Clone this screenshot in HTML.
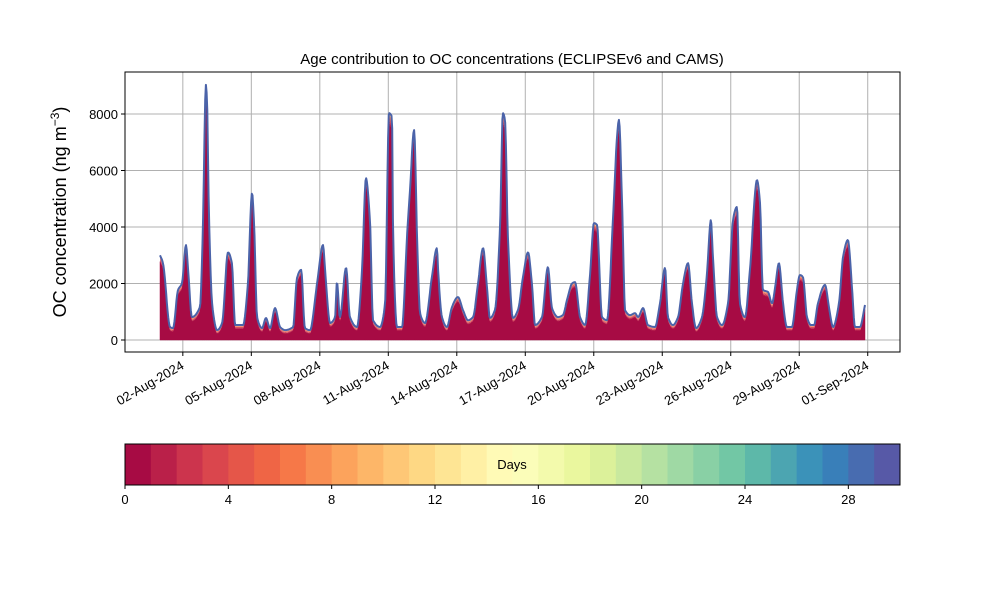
<!DOCTYPE html>
<html><head><meta charset="utf-8"><style>
body{margin:0;background:#fff;}
svg{display:block;font-family:"Liberation Sans","DejaVu Sans",sans-serif;}
</style></head><body>
<svg id="chart" width="1000" height="600" viewBox="0 0 1000 600">
<text x="512" y="64" text-anchor="middle" font-size="15">Age contribution to OC concentrations (ECLIPSEv6 and CAMS)</text>
<g id="grid"></g>
<g id="areas"></g>
<rect x="125" y="72" width="775" height="280" fill="none" stroke="#000" stroke-width="1"/>
<g id="yticks"></g>
<g id="xticks"></g>
<text transform="translate(66,212) rotate(-90)" text-anchor="middle" font-size="18">OC concentration (ng m<tspan font-size="12" dy="-7">−3</tspan><tspan dy="7">)</tspan></text>
<g id="cbar"></g>
</svg>
<script>
const days=[0,0.13,0.44,0.57,0.79,0.96,1.14,1.23,1.40,1.75,1.88,2.01,2.06,2.15,2.28,2.50,2.72,2.98,3.15,3.29,3.64,3.85,4.03,4.12,4.25,4.47,4.64,4.82,5.04,5.26,5.48,5.83,6.00,6.18,6.35,6.57,6.88,7.14,7.23,7.45,7.67,7.75,7.88,8.15,8.32,8.63,8.85,9.02,9.20,9.33,9.64,9.86,10.03,10.16,10.21,10.38,10.60,10.82,10.95,11.13,11.26,11.39,11.61,11.91,12.13,12.18,12.35,12.57,12.79,13.05,13.27,13.49,13.71,13.93,14.15,14.32,14.45,14.67,14.89,15.02,15.11,15.24,15.46,15.68,15.90,16.12,16.29,16.43,16.73,16.99,17.17,17.43,17.65,17.83,18.05,18.18,18.40,18.62,18.83,19.01,19.14,19.36,19.58,19.84,20.02,20.10,20.24,20.37,20.59,20.81,20.94,21.16,21.37,21.68,21.90,22.12,22.25,22.47,22.69,22.91,23.13,23.30,23.48,23.74,23.96,24.13,24.22,24.40,24.62,24.88,25.10,25.27,25.40,25.62,25.84,26.15,26.28,26.41,26.63,26.81,26.94,27.11,27.29,27.46,27.68,27.90,28.03,28.16,28.34,28.51,28.65,28.82,29.13,29.30,29.48,29.74,29.92,30.13,30.31,30.44,30.66,30.88];
const totals=[3000,2720,460,420,1770,2000,3360,2480,810,1170,4000,9030,8390,4250,1300,350,600,3100,2720,530,530,2000,5200,4140,810,420,780,420,1130,460,350,460,2190,2480,420,350,2000,3360,2480,600,810,2050,810,2550,810,460,2480,5730,4140,700,460,1300,8030,7900,3650,460,460,3650,5300,7430,3650,950,600,2230,3250,2480,810,460,1170,1520,1060,700,810,2000,3250,1880,780,1060,3900,8030,7790,3650,780,1060,2230,3100,2000,530,810,2580,1130,810,880,1420,2000,2050,810,530,2230,4140,4070,810,700,4250,7190,7790,4850,1060,880,950,810,1130,530,460,1300,2550,810,530,810,2000,2720,1300,420,810,2370,4250,2940,810,530,1300,4250,4710,1300,810,2480,5660,4850,1770,1700,1300,1840,2720,1300,460,460,1770,2300,2230,810,530,530,1300,1950,1170,460,1300,2940,3540,1880,460,460,1240];
const yTicks=[0,2000,4000,6000,8000];
const xTickLabels=["02-Aug-2024","05-Aug-2024","08-Aug-2024","11-Aug-2024","14-Aug-2024","17-Aug-2024","20-Aug-2024","23-Aug-2024","26-Aug-2024","29-Aug-2024","01-Sep-2024"];
const xTickDays=[1,4,7,10,13,16,19,22,25,28,31];
const cbarTicks=[0,4,8,12,16,20,24,28];
const nBins=30;

const NS="http://www.w3.org/2000/svg";
const X=d=>160+d*22.83;
const Y=v=>340-v*0.02825;
function mk(tag,attrs,parent){const e=document.createElementNS(NS,tag);for(const k in attrs)e.setAttribute(k,attrs[k]);parent.appendChild(e);return e;}
const spec=["#9e0142","#d53e4f","#f46d43","#fdae61","#fee08b","#ffffbf","#e6f598","#abdda4","#66c2a5","#3288bd","#5e4fa2"];
function hex(h){return [1,3,5].map(i=>parseInt(h.substr(i,2),16));}
function cmap(t){const p=t*10,i=Math.min(9,Math.floor(p)),f=p-i;const a=hex(spec[i]),b=hex(spec[i+1]);return "rgb("+a.map((c,k)=>Math.round(c+(b[k]-c)*f)).join(",")+")";}

const gridG=document.getElementById('grid'),ytG=document.getElementById('yticks'),xtG=document.getElementById('xticks');
yTicks.forEach(v=>{
  const l=mk('line',{x1:125,x2:900,y1:Y(v),y2:Y(v),stroke:'#b0b0b0','stroke-width':1},gridG);
  
  
  mk('line',{x1:121,x2:125,y1:Y(v),y2:Y(v),stroke:'#000'},ytG);
  const t=mk('text',{x:118,y:Y(v)+5,'text-anchor':'end','font-size':13},ytG);t.textContent=v;
  
  
});
xTickDays.forEach((d,i)=>{
  const x=X(d);
  const l=mk('line',{x1:x,x2:x,y1:72,y2:352,stroke:'#b0b0b0','stroke-width':1},gridG);
  
  
  mk('line',{x1:x,x2:x,y1:352,y2:356,stroke:'#000'},xtG);
  const t=mk('text',{transform:`translate(${x+2},${368}) rotate(-30)`,'text-anchor':'end','font-size':13},xtG);t.textContent=xTickLabels[i];
  
  
});

// monotone cubic interpolation for smooth rendering
const n=Math.min(days.length,totals.length);
const dd=days.slice(0,n), tt=totals.slice(0,n);
const sl=[];for(let i=0;i<n-1;i++)sl.push((tt[i+1]-tt[i])/(dd[i+1]-dd[i]));
const m=[sl[0]];for(let i=1;i<n-1;i++){m.push(sl[i-1]*sl[i]<=0?0:2/(1/sl[i-1]+1/sl[i]));}m.push(sl[n-2]);
function interp(t){let i=0;while(i<n-2&&t>dd[i+1])i++;const h=dd[i+1]-dd[i],s=(t-dd[i])/h;
  const h00=2*s*s*s-3*s*s+1,h10=s*s*s-2*s*s+s,h01=-2*s*s*s+3*s*s,h11=s*s*s-s*s;
  return Math.max(0,h00*tt[i]+h10*h*m[i]+h01*tt[i+1]+h11*h*m[i+1]);}
const sd=[],sv=[];for(let t=dd[0];t<dd[n-1];t+=0.03){sd.push(t);sv.push(interp(t));}sd.push(dd[n-1]);sv.push(tt[n-1]);

const wts=[];let ws=0;for(let k=1;k<nBins;k++){const v=Math.pow(0.82,k-1);wts.push(v);ws+=v;}
const stacks=sv.map(v=>{const aged=Math.min(v*0.5,110+0.04*v);const arr=[v-aged];for(let k=1;k<nBins;k++)arr.push(aged*wts[k-1]/ws);return arr;});
const areasG=document.getElementById('areas');
let lower=sv.map(()=>0);
for(let k=0;k<nBins;k++){
  const upper=lower.map((b,i)=>b+stacks[i][k]);
  let d="M"+sd.map((x,i)=>X(x).toFixed(1)+","+Y(upper[i]).toFixed(1)).join("L");
  for(let i=sd.length-1;i>=0;i--)d+="L"+X(sd[i]).toFixed(1)+","+Y(lower[i]).toFixed(1);
  const p=mk('path',{d:d+"Z",fill:cmap((k+0.5)/nBins),stroke:k===0?cmap(0.5/nBins):'none','stroke-width':0.5},areasG);
  
  
  lower=upper;
}
const topLine=mk('polyline',{points:sd.map((x,i)=>X(x).toFixed(1)+","+Y(sv[i]).toFixed(1)).join(" "),fill:'none',stroke:'#4b63a9','stroke-width':2,'stroke-linejoin':'round'},areasG);



const cbG=document.getElementById('cbar');
const cw=775/nBins;
for(let k=0;k<nBins;k++){
  const r=mk('rect',{x:125+k*cw,y:444,width:cw+0.4,height:41,fill:cmap((k+0.5)/nBins)},cbG);
  
  
}
mk('rect',{x:125,y:444,width:775,height:41,fill:'none',stroke:'#000'},cbG);
cbarTicks.forEach(v=>{
  const x=125+v*cw;
  mk('line',{x1:x,x2:x,y1:485,y2:489,stroke:'#000'},cbG);
  const t=mk('text',{x:x,y:504,'text-anchor':'middle','font-size':13},cbG);t.textContent=v;
  
  
});
const dl=mk('text',{x:512,y:469,'text-anchor':'middle','font-size':13},cbG);dl.textContent="Days";


</script>
</body></html>
